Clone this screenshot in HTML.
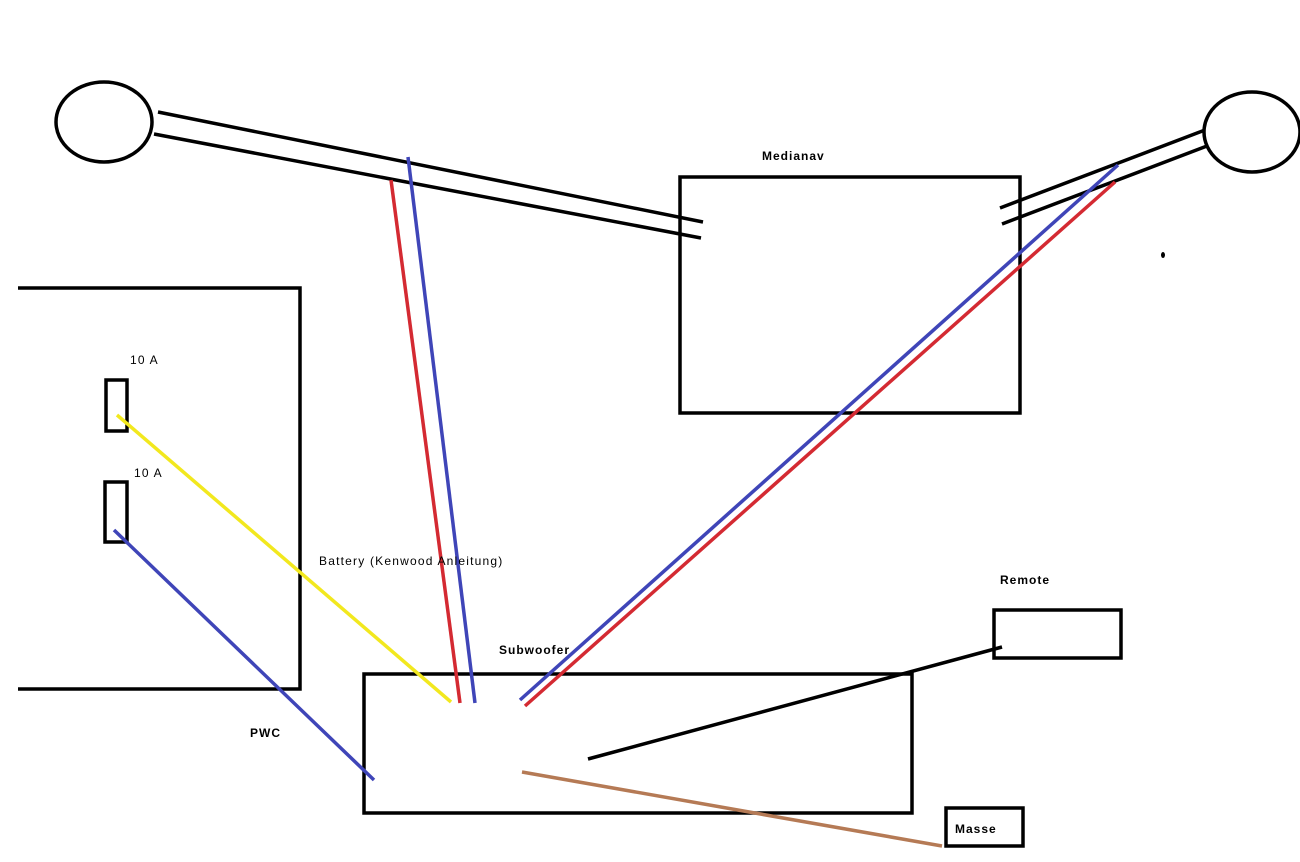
<!DOCTYPE html>
<html><head><meta charset="utf-8"><style>
html,body{margin:0;padding:0;background:#fff;}
svg{display:block;}
text{font-family:"Liberation Sans",sans-serif;font-size:12px;fill:#000;letter-spacing:1.2px;}
.b{font-weight:bold;letter-spacing:1px;}
</style></head><body>
<svg width="1300" height="862" viewBox="0 0 1300 862" xmlns="http://www.w3.org/2000/svg">
<rect width="1300" height="862" fill="#fff"/>
<g fill="none" stroke="#000" stroke-width="3.5">
<ellipse cx="104" cy="122" rx="48" ry="40"/>
<ellipse cx="1252" cy="132" rx="48" ry="40"/>
<line x1="158" y1="112" x2="703" y2="222"/>
<line x1="154" y1="134" x2="701" y2="238"/>
<line x1="1000" y1="208" x2="1205" y2="130"/>
<line x1="1002" y1="224" x2="1207" y2="146"/>
<rect x="680" y="177" width="340" height="236"/>
<polyline points="18,288 300,288 300,689 18,689"/>
<rect x="106" y="380" width="21" height="51"/>
<rect x="105" y="482" width="22" height="60"/>
<rect x="364" y="674" width="548" height="139"/>
<rect x="994" y="610" width="127" height="48"/>
<rect x="946" y="808" width="77" height="38"/>
<line x1="588" y1="759" x2="1002" y2="647"/>
</g>
<g fill="none" stroke-width="3.5">
<line x1="391" y1="180" x2="460" y2="703" stroke="#d42a32"/>
<line x1="408" y1="157" x2="475" y2="703" stroke="#3f45b8"/>
<line x1="520" y1="700" x2="1118" y2="165" stroke="#3f45b8"/>
<line x1="525" y1="706" x2="1115" y2="182" stroke="#d42a32"/>
<line x1="117" y1="415" x2="451" y2="702" stroke="#f2e81e"/>
<line x1="114" y1="530" x2="374" y2="780" stroke="#3f45b8"/>
<line x1="522" y1="772" x2="942" y2="846" stroke="#b57a55"/>
</g>
<ellipse cx="1163" cy="255" rx="2" ry="3" fill="#000"/>
<text x="762" y="160" class="b">Medianav</text>
<text x="130" y="364">10 A</text>
<text x="134" y="477">10 A</text>
<text x="319" y="565">Battery (Kenwood Anleitung)</text>
<text x="499" y="654" class="b">Subwoofer</text>
<text x="1000" y="584" class="b">Remote</text>
<text x="250" y="737" class="b">PWC</text>
<text x="955" y="833" class="b">Masse</text>
</svg>
</body></html>
